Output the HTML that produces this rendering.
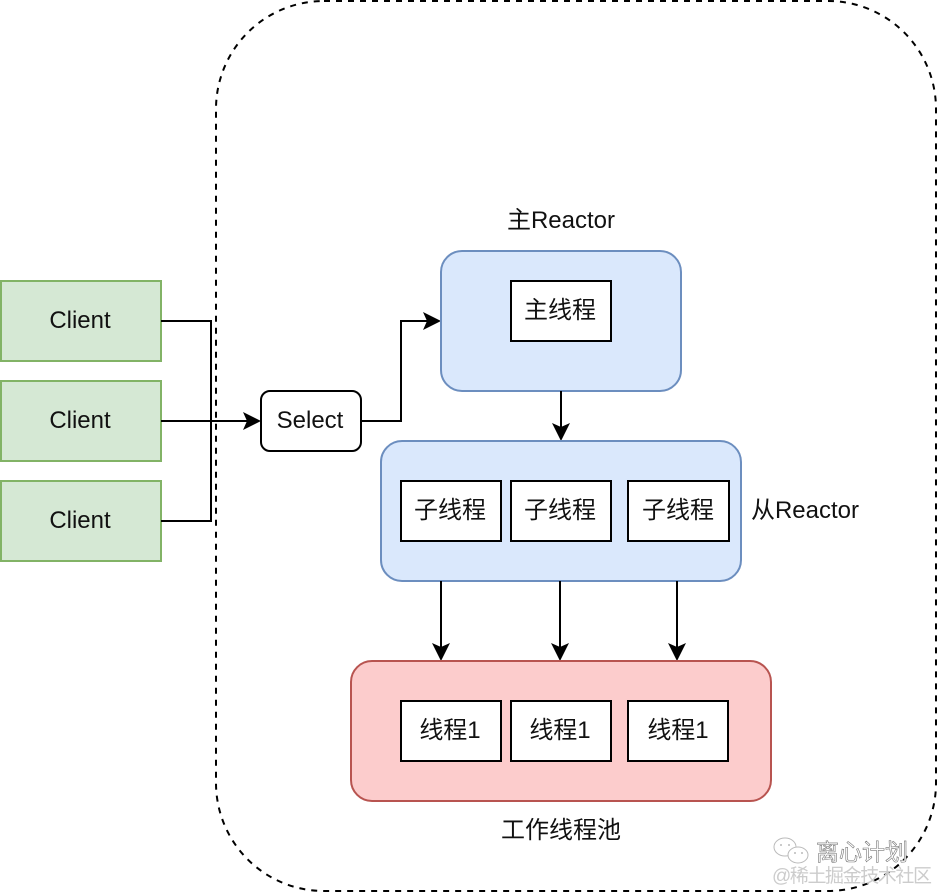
<!DOCTYPE html>
<html>
<head>
<meta charset="utf-8">
<style>
html,body{margin:0;padding:0;background:#fff;width:938px;height:892px;overflow:hidden}
svg{display:block}
text{font-family:"Liberation Sans","Noto Sans CJK SC",sans-serif;font-size:24px;fill:#111;text-anchor:middle}
.b{fill:#fff;stroke:#000;stroke-width:2}
.g{fill:#d5e8d4;stroke:#82b366;stroke-width:2}
.bl{fill:#dae8fc;stroke:#6c8ebf;stroke-width:2}
.r{fill:#fccccc;stroke:#b85450;stroke-width:2}
.l{fill:none;stroke:#000;stroke-width:2}
</style>
</head>
<body>
<svg width="938" height="892" viewBox="0 0 938 892" xmlns="http://www.w3.org/2000/svg">
<rect x="216" y="1" width="720" height="890" rx="108" ry="108" fill="none" stroke="#000" stroke-width="2" stroke-dasharray="6 6"/>

<rect class="g" x="1" y="281" width="160" height="80"/>
<rect class="g" x="1" y="381" width="160" height="80"/>
<rect class="g" x="1" y="481" width="160" height="80"/>
<text x="80" y="328">Client</text>
<text x="80" y="428">Client</text>
<text x="80" y="528">Client</text>

<path class="l" d="M161 321H211V521H161"/>
<path class="l" d="M161 421H252"/>
<path d="M261 421L243 430L247 421L243 412Z" fill="#000"/>

<rect class="b" x="261" y="391" width="100" height="60" rx="9" ry="9"/>
<text x="310" y="428">Select</text>

<path class="l" d="M361 421H401V321H432"/>
<path d="M441 321L423 330L427 321L423 312Z" fill="#000"/>

<text x="561" y="228">主Reactor</text>
<rect class="bl" x="441" y="251" width="240" height="140" rx="21" ry="21"/>
<rect class="b" x="511" y="281" width="100" height="60"/>
<text x="560" y="318">主线程</text>

<path class="l" d="M561 391V432"/>
<path d="M561 441L552 423L561 427L570 423Z" fill="#000"/>

<rect class="bl" x="381" y="441" width="360" height="140" rx="21" ry="21"/>
<rect class="b" x="401" y="481" width="100" height="60"/>
<rect class="b" x="511" y="481" width="100" height="60"/>
<rect class="b" x="628" y="481" width="101" height="60"/>
<text x="450" y="518">子线程</text>
<text x="560" y="518">子线程</text>
<text x="678" y="518">子线程</text>
<text x="805" y="518">从Reactor</text>

<path class="l" d="M441 581V652M560 581V652M677 581V652"/>
<path d="M441 661L432 643L441 647L450 643Z" fill="#000"/>
<path d="M560 661L551 643L560 647L569 643Z" fill="#000"/>
<path d="M677 661L668 643L677 647L686 643Z" fill="#000"/>

<rect class="r" x="351" y="661" width="420" height="140" rx="21" ry="21"/>
<rect class="b" x="401" y="701" width="100" height="60"/>
<rect class="b" x="511" y="701" width="100" height="60"/>
<rect class="b" x="628" y="701" width="100" height="60"/>
<text x="450" y="738">线程1</text>
<text x="560" y="738">线程1</text>
<text x="678" y="738">线程1</text>
<text x="561" y="838">工作线程池</text>

<g fill="none" stroke="#bbb" stroke-width="1">
<ellipse cx="785" cy="847" rx="11" ry="9"/>
<ellipse cx="798" cy="855" rx="10" ry="8" fill="#fff"/>
</g>
<circle cx="781" cy="845" r="1" fill="#bbb"/>
<circle cx="789" cy="845" r="1" fill="#bbb"/>
<circle cx="795" cy="853" r="1" fill="#bbb"/>
<circle cx="802" cy="853" r="1" fill="#bbb"/>
<text x="862" y="860" style="font-size:23px;fill:#fff;stroke:#777;stroke-width:.6px">离心计划</text>
<text x="852" y="882" style="font-size:19px;fill:#ccc" textLength="160">@稀土掘金技术社区</text>
</svg>
</body>
</html>
